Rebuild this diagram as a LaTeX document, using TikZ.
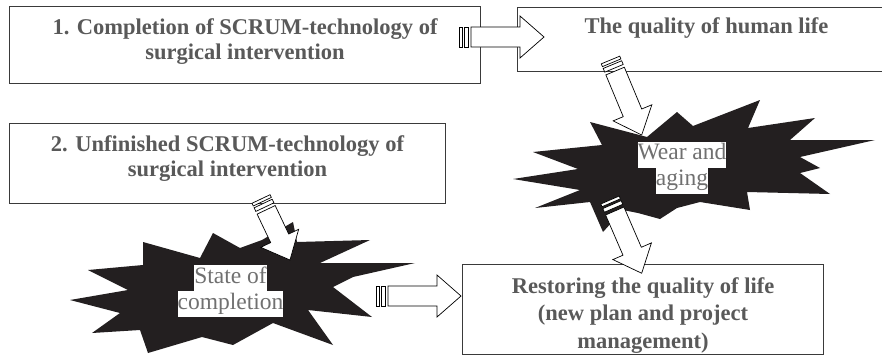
\documentclass[tikz,border=0pt]{standalone}
\usepackage{fontspec}
\setmainfont{Liberation Serif}
\usetikzlibrary{positioning,calc}

\definecolor{boxline}{HTML}{3A3A3A}
\definecolor{boxtextgray}{HTML}{595959}
\definecolor{labelgray}{HTML}{707070}
\definecolor{burstblack}{HTML}{231F20}

\newcommand{\whitebg}[1]{{\setlength{\fboxsep}{0pt}\colorbox{white}{\strut #1}}}

\tikzset{
  box/.style={draw=boxline, line width=1.1pt, anchor=north west, inner sep=0pt},
  boxtext/.style={inner sep=0pt, align=center, text=boxtextgray,
    font=\fontsize{22.5}{25}\selectfont\bfseries},
  burst/.style={fill=burstblack},
  burstlabel/.style={inner sep=0pt, align=center, text=labelgray,
    font=\fontsize{23.5}{26}\selectfont},
  arrowline/.style={draw=black, fill=white, line width=0.7pt},
  stripes/.pic={
    \draw[arrowline] (0,-10) rectangle (3,10);
    \draw[arrowline] (5,-10) rectangle (9,10);
    \draw[arrowline] (12,-10) -- ({#1-24},-10) -- ({#1-24},-21) -- (#1,0)
      -- ({#1-24},21) -- ({#1-24},10) -- (12,10) -- cycle;
  }
}

\newcommand{\stripedarrow}[2]{%
  \path let \p1=($(#2)-(#1)$) in \pgfextra{%
    \pgfmathparse{atan2(\y1,\x1)}\xdef\arrang{\pgfmathresult}%
    \pgfmathparse{veclen(\x1,\y1)}\xdef\arrlen{\pgfmathresult}};
  \path (#1) pic[rotate=\arrang] {stripes=\arrlen};
}

\begin{document}
\begin{tikzpicture}[x=1pt, y=-1pt]
  \useasboundingbox (0,0) rectangle (882,356);
  \fill[white] (0,0) rectangle (882,356);

  % boxes
  \node[box, minimum width=471pt, minimum height=77pt] (complete) at (9,6) {};
  \node[box, minimum width=378pt, minimum height=64pt] (quality) at (517,7) {};
  \node[box, minimum width=436pt, minimum height=80pt] (unfinished) at (9,123) {};
  \node[box, minimum width=361pt, minimum height=90pt] (restore) at (462,264) {};

  \node[boxtext, below=12pt of complete.north] {1. Completion of SCRUM-technology of\\surgical intervention};
  \node[boxtext, below=10pt of quality.north] {The quality of human life};
  \node[boxtext, below=12pt of unfinished.north] {2. Unfinished SCRUM-technology of\\surgical intervention};
  \node[boxtext, font=\fontsize{22.5}{27.5}\selectfont\bfseries, below=13pt of restore.north]
    {Restoring the quality of life\\(new plan and project\\management)};

  % bursts
  \fill[burst] (513,179) -- (578,169) -- (533,152) -- (602,145) -- (590,122)
    -- (647,137) -- (677,112) -- (693,126) -- (760,100) -- (748,128)
    -- (815,118) -- (790,140) -- (875,140) -- (800,157) -- (820,168)
    -- (800,173) -- (830,194) -- (747,192) -- (750,210) -- (700,202)
    -- (677,208) -- (660,219) -- (638,213) -- (623,210) -- (603,232)
    -- (590,202) -- (535,208) -- (580,190) -- cycle;
  \fill[burst] (70,300) -- (128,290) -- (88,270) -- (143,265) -- (143,242)
    -- (200,258) -- (213,233) -- (240,248) -- (262,240) -- (293,222)
    -- (297,242) -- (370,240) -- (320,263) -- (415,263) -- (353,277)
    -- (333,287) -- (372,317) -- (308,310) -- (333,345) -- (273,323)
    -- (233,345) -- (202,337) -- (148,353) -- (140,330) -- (92,333)
    -- (120,313) -- cycle;

  \node[burstlabel] (wear) at (682,167.5) {\whitebg{Wear and}\\\whitebg{aging}};
  \node[burstlabel] (state) at (230.5,291) {\whitebg{State of}\\\whitebg{completion}};

  % arrows
  \coordinate (complete-out) at (459,37);
  \coordinate (quality-in) at (544,37);
  \coordinate (quality-out) at (610.5,60);
  \coordinate (wear-in) at (641.7,135);
  \coordinate (wear-out) at (610,200);
  \coordinate (restore-top) at (641.7,273.3);
  \coordinate (unfinished-out) at (261,199);
  \coordinate (state-in) at (290,260);
  \coordinate (state-out) at (376,296);
  \coordinate (restore-left) at (461,296);

  \stripedarrow{complete-out}{quality-in}
  \stripedarrow{quality-out}{wear-in}
  \stripedarrow{wear-out}{restore-top}
  \stripedarrow{unfinished-out}{state-in}
  \stripedarrow{state-out}{restore-left}
\end{tikzpicture}
\end{document}
